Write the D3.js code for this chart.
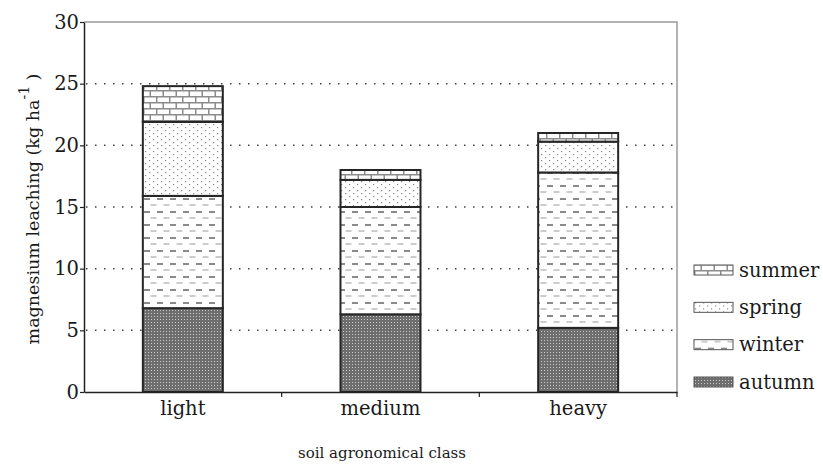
<!DOCTYPE html>
<html>
<head>
<meta charset="utf-8">
<script src="https://cdn.jsdelivr.net/npm/d3@7"></script>
<style>
  html, body { margin: 0; padding: 0; background: #fff; }
  svg text { font-family: "DejaVu Serif", "Liberation Serif", serif; fill: #1a1a1a; }
</style>
</head>
<body>
<svg id="chart" width="823" height="468"></svg>
<script>
// ---- data (kg ha-1) ----
var classes = ["light", "medium", "heavy"];
var seasons = ["autumn", "winter", "spring", "summer"];
var autumn = [6.8, 6.3, 5.2];
var winter = [9.1, 8.7, 12.6];
var spring = [6.0, 2.2, 2.5];
var summer = [2.9, 0.8, 0.7];
var yTicks = [0, 5, 10, 15, 20, 25, 30];

var svg = d3.select("#chart");
var M = { left: 84, top: 22, right: 677, bottom: 392 };

var x = d3.scaleBand().domain(classes).range([M.left, M.right]).paddingInner(0).paddingOuter(0);
var y = d3.scaleLinear().domain([0, 30]).range([M.bottom, M.top]);
var bw = 80;

// ---- patterns ----
var defs = svg.append("defs");

// autumn: dark dense dotted
var pA = defs.append("pattern").attr("id", "p-autumn").attr("patternUnits", "userSpaceOnUse")
  .attr("width", 3).attr("height", 3);
pA.append("rect").attr("width", 3).attr("height", 3).attr("fill", "#6e6e6e");
pA.append("rect").attr("x", 1).attr("y", 1).attr("width", 1).attr("height", 1).attr("fill", "#c8c8c8");

// winter: alternating dash rows
var pW = defs.append("pattern").attr("id", "p-winter").attr("patternUnits", "userSpaceOnUse")
  .attr("width", 13).attr("height", 13);
pW.append("rect").attr("width", 13).attr("height", 13).attr("fill", "#fff");
pW.append("rect").attr("x", 1).attr("y", 3).attr("width", 6).attr("height", 2).attr("fill", "#8a8a8a");
pW.append("rect").attr("x", 7.5).attr("y", 9.5).attr("width", 6).attr("height", 1).attr("fill", "#9a9a9a");
pW.append("rect").attr("x", -5.5).attr("y", 9.5).attr("width", 6).attr("height", 1).attr("fill", "#9a9a9a");

// spring: staggered dots
var pS = defs.append("pattern").attr("id", "p-spring").attr("patternUnits", "userSpaceOnUse")
  .attr("width", 8).attr("height", 6);
pS.append("rect").attr("width", 8).attr("height", 6).attr("fill", "#fff");
pS.append("rect").attr("x", 1).attr("y", 1).attr("width", 1.2).attr("height", 1.2).attr("fill", "#888");
pS.append("rect").attr("x", 5).attr("y", 4).attr("width", 1.2).attr("height", 1.2).attr("fill", "#888");

// summer: bricks
var pU = defs.append("pattern").attr("id", "p-summer").attr("patternUnits", "userSpaceOnUse")
  .attr("width", 13).attr("height", 12);
pU.append("rect").attr("width", 13).attr("height", 12).attr("fill", "#fff");
pU.append("path").attr("fill", "none").attr("stroke", "#8c8c8c").attr("stroke-width", 1.5)
  .attr("d", "M0,0.75H13M0,6.75H13M0.75,0V6M7.25,6V12");

var fills = { autumn: "url(#p-autumn)", winter: "url(#p-winter)", spring: "url(#p-spring)", summer: "url(#p-summer)" };

// ---- dotted gridlines ----
svg.append("g").selectAll("line").data(yTicks.filter(function (d) { return d > 0 && d < 30; }))
  .enter().append("line")
  .attr("x1", M.left + 2).attr("x2", M.right)
  .attr("y1", function (d) { return y(d); }).attr("y2", function (d) { return y(d); })
  .attr("stroke", "#444").attr("stroke-width", 1.5).attr("stroke-dasharray", "1.5 7.5");

// ---- frame (top/right grey) ----
svg.append("path").attr("fill", "none").attr("stroke", "#9a9a9a").attr("stroke-width", 1.5)
  .attr("d", "M" + M.left + "," + M.top + "H" + M.right + "V" + M.bottom);

// ---- stacked bars ----
var rows = classes.map(function (c, i) {
  return { cls: c, autumn: autumn[i], winter: winter[i], spring: spring[i], summer: summer[i] };
});
var stack = d3.stack().keys(seasons)(rows);

stack.forEach(function (layer) {
  svg.append("g").selectAll("rect").data(layer).enter().append("rect")
    .attr("x", function (d) { return x(d.data.cls) + x.bandwidth() / 2 - bw / 2; })
    .attr("width", bw)
    .attr("y", function (d) { return y(d[1]); })
    .attr("height", function (d) { return y(d[0]) - y(d[1]); })
    .attr("fill", fills[layer.key])
    .attr("stroke", "#262626").attr("stroke-width", 2);
});

// ---- axes ----
var yAxis = svg.append("g").attr("transform", "translate(" + M.left + ",0)")
  .call(d3.axisLeft(y).tickValues(yTicks).tickSize(4).tickSizeOuter(0));
yAxis.select(".domain").attr("stroke", "#222").attr("stroke-width", 1.5);
yAxis.selectAll(".tick line").attr("stroke", "#222").attr("stroke-width", 1.2);
yAxis.selectAll(".tick text").attr("font-size", 19.5).attr("x", -5).attr("fill", "#1a1a1a");

var xAxis = svg.append("g").attr("transform", "translate(0," + M.bottom + ")")
  .call(d3.axisBottom(x).tickSize(0).tickSizeOuter(0));
xAxis.select(".domain").attr("stroke", "#222").attr("stroke-width", 1.5);
xAxis.selectAll(".tick text").attr("font-size", 19.5).attr("dy", "1.05em").attr("fill", "#1a1a1a");
// category separator ticks
svg.append("g").selectAll("line").data(classes).enter().append("line")
  .attr("x1", function (d) { return x(d) + x.bandwidth(); })
  .attr("x2", function (d) { return x(d) + x.bandwidth(); })
  .attr("y1", M.bottom).attr("y2", M.bottom + 5)
  .attr("stroke", "#222").attr("stroke-width", 1.2);

// ---- axis titles ----
var yl = svg.append("text").attr("transform", "translate(39," + ((M.top + M.bottom) / 2 + 2) + ") rotate(-90)")
  .attr("text-anchor", "middle").attr("font-size", 17.5);
yl.append("tspan").text("magnesium leaching (kg ha");
yl.append("tspan").attr("dy", -10).attr("font-size", 14).text("-1");
yl.append("tspan").attr("dy", 10).text(" )");

svg.append("text").attr("x", 382).attr("y", 458)
  .attr("text-anchor", "middle").attr("font-size", 15).text("soil agronomical class");

// ---- legend (summer on top) ----
var legY = d3.scalePoint().domain(seasons.slice().reverse()).range([270, 382]);
var leg = svg.append("g").selectAll("g").data(seasons).enter().append("g")
  .attr("transform", function (d) { return "translate(694," + legY(d) + ")"; });
leg.append("rect").attr("x", 0).attr("y", -5).attr("width", 39).attr("height", 10)
  .attr("fill", function (d) { return fills[d]; })
  .attr("stroke", "#555").attr("stroke-width", 1);
leg.append("text").attr("x", 45).attr("y", 0).attr("dy", "0.35em").attr("font-size", 19.5)
  .text(function (d) { return d; });
</script>
</body>
</html>
